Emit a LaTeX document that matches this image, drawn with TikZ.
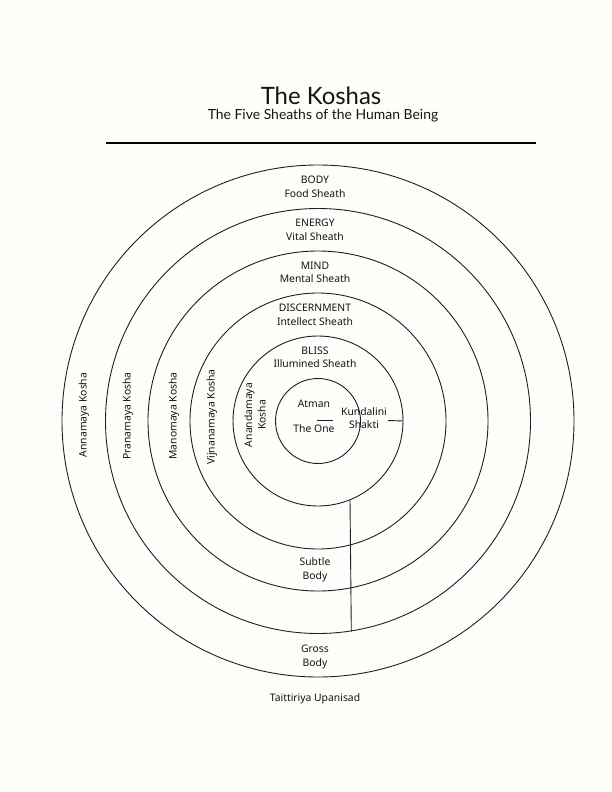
\documentclass[tikz,border=0pt]{standalone}
\usepackage{fontspec}
\setmainfont{Noto Sans}
\newfontfamily\titlefont{Lato}
\definecolor{bgc}{HTML}{FEFDFA}
\definecolor{linec}{HTML}{1E1E2A}
\definecolor{textc}{HTML}{141414}
\begin{document}
\begin{tikzpicture}[x=1bp,y=-1bp,
  ring/.style={draw=linec, line width=0.9bp, circle, inner sep=0pt, minimum size=#1},
  lbl/.style={font=\fontsize{10.4}{13.5}\selectfont, text=textc, align=center, inner sep=0pt},
  vlbl/.style={lbl, rotate=90},
  conn/.style={draw=linec, line width=0.9bp},
  rule/.style={draw=black, line width=1.2bp}]
\fill[bgc] (0,0) rectangle (612,792);
\useasboundingbox (0,0) rectangle (612,792);

% title
\node[text=textc, inner sep=0pt, font=\titlefont\fontsize{24}{28}\selectfont] (title) at (321,96) {The Koshas};
\node[text=textc, inner sep=0pt, font=\titlefont\fontsize{14}{16}\selectfont] (subtitle) at (323,116) {The Five Sheaths of the Human Being};
\coordinate (rl) at (106,143);
\coordinate (rr) at (536,143);
\draw[rule] (rl) -- (rr);

% rings
\node[ring=512bp]  (c1) at (318,421) {};
\node[ring=425bp]  (c2) at (318,421) {};
\node[ring=340bp]  (c3) at (318,421) {};
\node[ring=256bp]  (c4) at (318,421) {};
\node[ring=170bp]  (c5) at (318,421) {};
\node[ring=85bp]   (c6) at (318,421) {};

% top labels
\node[lbl] (body)   at (315,187)   {BODY\\Food Sheath};
\node[lbl] (energy) at (315,230)   {ENERGY\\Vital Sheath};
\node[lbl] (mind)   at (315,272.5) {MIND\\Mental Sheath};
\node[lbl] (disc)   at (315,315)   {DISCERNMENT\\Intellect Sheath};
\node[lbl] (bliss)  at (315,357.5) {BLISS\\Illumined Sheath};

% side labels
\node[vlbl] (anna)  at (84,415)  {Annamaya Kosha};
\node[vlbl] (prana) at (128,416) {Pranamaya Kosha};
\node[vlbl] (mano)  at (174,416) {Manomaya Kosha};
\node[vlbl] (vijn)  at (212,417) {Vijnanamaya Kosha};
\node[vlbl] (anan)  at (255,415) {Anandamaya\\Kosha};

% centre
\node[lbl] (atman)  at (314,404) {Atman};
\node[lbl] (theone) at (314,429) {The One};
\node[lbl] (kund)   at (364,418) {Kundalini\\Shakti};
\coordinate (dl) at (317,420.5);
\coordinate (dr) at (333,420.5);
\draw[conn] (dl) -- (dr);
\coordinate (kl) at (388,420.5);
\draw[conn] (kl) -- (c5.east);

% vertical line
\draw[conn] (c5.-68.6) -- (c2.-81.6);

% bottom labels
\node[lbl] (subtle) at (315,570) {Subtle\\Body};
\node[lbl] (gross)  at (315,657) {Gross\\Body};
\node[lbl] (source) at (315,699) {Taittiriya Upanisad};
\end{tikzpicture}
\end{document}
